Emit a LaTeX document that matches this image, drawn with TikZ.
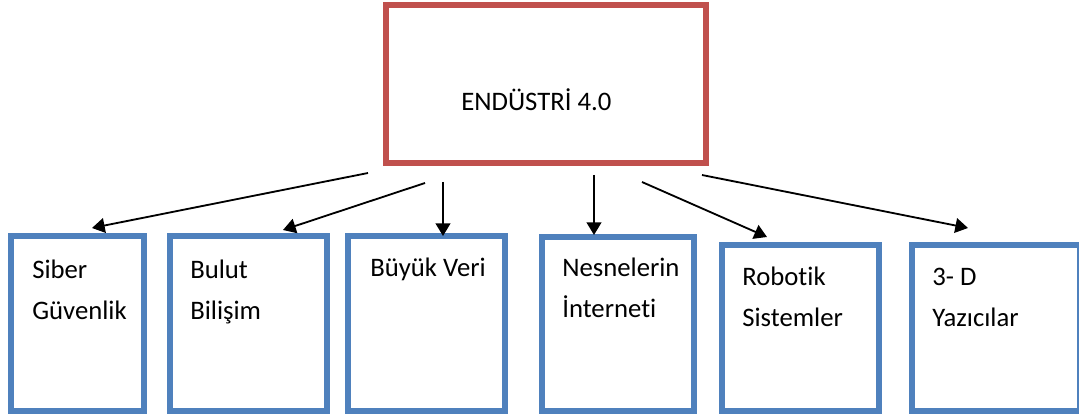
\documentclass[tikz,border=0pt]{standalone}
\usepackage{fontspec}
\setmainfont{Carlito}[Ligatures={NoCommon}]
\usetikzlibrary{arrows.meta}
\definecolor{boxred}{RGB}{192,80,77}
\definecolor{boxblue}{RGB}{79,129,189}
\tikzset{
  mainbox/.style={draw=boxred, line width=4.2pt, inner sep=0pt},
  subbox/.style={draw=boxblue, line width=4.2pt, inner sep=0pt},
  boxtext/.style={anchor=base west, inner sep=0pt, align=left, font=\fontsize{19}{29.5}\selectfont},
  link/.style={-{Triangle[length=9pt,width=10.5pt]}, line width=1.3pt}
}
\begin{document}
\begin{tikzpicture}[x=0.025cm, y=-0.025cm]
            \clip (0,0) rectangle (1079,418);
            \fill[white] (0,0) rectangle (1079,418);
            \node[mainbox, minimum width=8cm, minimum height=3.95cm] (endustri) at (546,84) {};
            \node[subbox, minimum width=3.325cm, minimum height=4.375cm] (siber) at (77.5,323.5) {};
            \node[subbox, minimum width=3.925cm, minimum height=4.375cm] (bulut) at (248.5,323.5) {};
            \node[subbox, minimum width=3.925cm, minimum height=4.375cm] (buyuk) at (426.5,323.5) {};
            \node[subbox, minimum width=3.8cm, minimum height=4.35cm] (nesne) at (618,324) {};
            \node[subbox, minimum width=3.925cm, minimum height=4.15cm] (robot) at (800.5,328) {};
            \node[subbox, minimum width=4.2cm, minimum height=4.15cm] (yazici) at (996,328) {};
            % texts, anchored at the baseline of the last line
            \node[boxtext] (endustri-t) at (461,111) {ENDÜSTRİ 4.0};
            \node[boxtext] (siber-t) at (32,320) {Siber\\Güvenlik};
            \node[boxtext] (bulut-t) at (190,320) {Bulut\\Bilişim};
            \node[boxtext] (buyuk-t) at (370,277) {Büyük Veri};
            \node[boxtext] (nesne-t) at (562,318) {Nesnelerin\\İnterneti};
            \node[boxtext] (robot-t) at (742,327) {Robotik\\Sistemler};
            \node[boxtext] (yazici-t) at (932,327) {3- D\\Yazıcılar};
            % arrow ends
            \coordinate (s1) at (368,173); \coordinate (e1) at (92,228);
            \coordinate (s2) at (425,183); \coordinate (e2) at (283,230);
            \coordinate (s3) at (443,182); \coordinate (e3) at (443,236);
            \coordinate (s4) at (594,175); \coordinate (e4) at (594,235);
            \coordinate (s5) at (642,182); \coordinate (e5) at (767,237);
            \coordinate (s6) at (702,175); \coordinate (e6) at (968,228);
            \foreach \i in {1,...,6} {
                \draw[link] (s\i) -- (e\i);
            }
\end{tikzpicture}
\end{document}
